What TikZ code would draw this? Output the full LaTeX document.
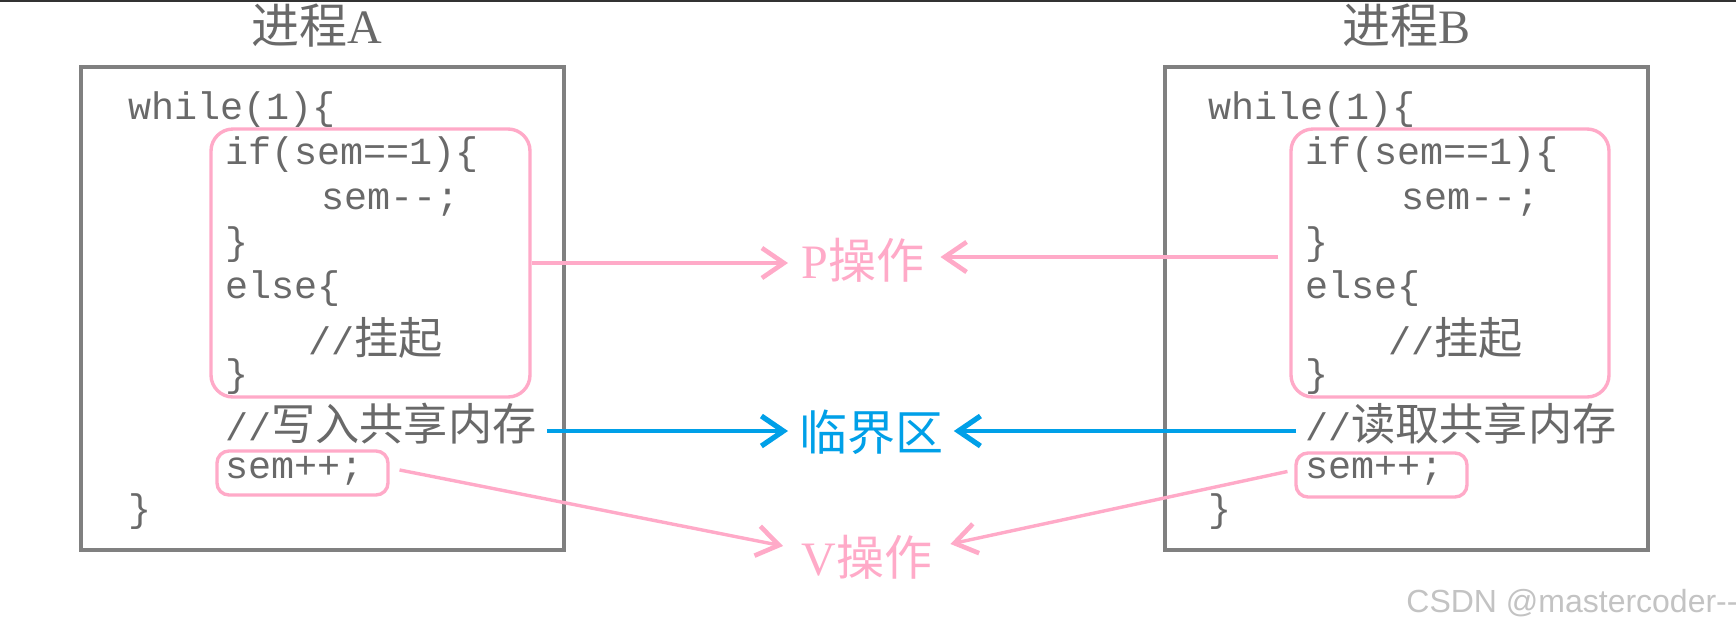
\documentclass[tikz,border=0pt]{standalone}
\usepackage{fontspec}
\usetikzlibrary{arrows.meta,fit}
\setmainfont{Liberation Serif}
\newfontfamily\codefont{Liberation Mono}
\newfontfamily\cjk[Scale=1.15]{Noto Sans CJK SC}
\newfontfamily\cjkt{Noto Sans CJK SC}
\newfontfamily\wmfont{Liberation Sans}
\definecolor{codegray}{RGB}{105,105,105}
\definecolor{boxgray}{RGB}{128,128,128}
\definecolor{pinkc}{RGB}{255,170,200}
\definecolor{bluec}{RGB}{0,160,232}
\definecolor{wmgray}{RGB}{195,195,195}
\newcommand{\mm}{\mbox{-}}
\tikzset{
  code/.style={anchor=base west, inner sep=0pt, text=codegray, font=\codefont\fontsize{19.2}{21}\selectfont},
  graybox/.style={draw=boxgray, line width=2pt},
  pinkbox/.style={draw=pinkc, line width=1.7pt, rounded corners=11pt, inner sep=0pt},
  pinksmall/.style={draw=pinkc, line width=1.7pt, rounded corners=6pt, inner sep=0pt},
  titlet/.style={inner sep=0pt, text=codegray, font=\fontsize{24}{26}\selectfont},
  optext/.style={inner sep=0pt, font=\fontsize{24}{26}\selectfont},
  parrow/.style={draw=pinkc, line width=1.7pt, -{Straight Barb[length=11pt,width=15pt,line width=2.3pt]}},
  barrow/.style={draw=bluec, line width=2.1pt, -{Straight Barb[length=11pt,width=15pt,line width=2.6pt]}}
}
\begin{document}
\begin{tikzpicture}[x=0.5pt,y=-0.5pt]
\useasboundingbox (0,0) rectangle (1736,628);
\fill[white] (0,0) rectangle (1736,628);
\draw[draw={rgb,255:red,50;green,50;blue,50}, line width=1pt] (0,1) -- (1736,1);

% titles
\node[titlet, anchor=base] (tA) at (317,43) {{\cjkt 进程}A};
\node[titlet, anchor=base] (tB) at (1406,43) {{\cjkt 进程}B};

% process boxes
\node[graybox, fit={(81,67) (564,550)}, inner sep=0pt] (boxA) {};
\node[graybox, fit={(1165,67) (1648,550)}, inner sep=0pt] (boxB) {};

% code A
\node[code] (a1) at (128,119) {while(1)\{};
\node[code] (a2) at (225,164) {if(sem==1)\{};
\node[code] (a3) at (321,209) {sem\mm\mm;};
\node[code] (a4) at (225,254) {\}};
\node[code] (a5) at (225,298) {else\{};
\node[code] (a6) at (308,354) {//{\cjk 挂起}};
\node[code] (a7) at (225,386) {\}};
\node[code] (a8) at (225,440) {//{\cjk 写入共享内存}};
\node[code] (a9) at (225,478) {sem++;};
\node[code] (a10) at (128,521) {\}};

% code B
\node[code] (b1) at (1208,119) {while(1)\{};
\node[code] (b2) at (1305,164) {if(sem==1)\{};
\node[code] (b3) at (1401,209) {sem\mm\mm;};
\node[code] (b4) at (1305,254) {\}};
\node[code] (b5) at (1305,298) {else\{};
\node[code] (b6) at (1388,354) {//{\cjk 挂起}};
\node[code] (b7) at (1305,386) {\}};
\node[code] (b8) at (1305,440) {//{\cjk 读取共享内存}};
\node[code] (b9) at (1305,478) {sem++;};
\node[code] (b10) at (1208,521) {\}};

% pink outlines
\node[pinkbox, fit={(211,129) (530,397)}] (pA) {};
\node[pinkbox, fit={(1291,129) (1609,397)}] (pB) {};
\node[pinksmall, fit={(217,451) (388,495)}] (sA) {};
\node[pinksmall, fit={(1296,453) (1467,497)}] (sB) {};

% operation labels
\node[optext, text=pinkc, anchor=west] (P) at (801,260) {P{\cjkt 操作}};
\node[optext, text=bluec, anchor=west] (C) at (799,432) {{\cjkt 临界区}};
\node[optext, text=pinkc, anchor=west] (V) at (801,557) {V{\cjkt 操作}};

% connectors
\draw[parrow, shorten >=6.5pt] (pA.east) -- (pA.east -| P.west);
\draw[parrow, shorten <=5.5pt, shorten >=8pt] ([yshift=3pt]pB.west) -- ([yshift=3pt]pB.west -| P.east);
\draw[barrow, shorten <=5pt, shorten >=5.5pt] ([yshift=4.5pt]a8.base east) -- ([yshift=4.5pt]a8.base east -| C.west);
\draw[barrow, shorten <=4.5pt, shorten >=5pt] ([yshift=4.5pt]b8.base west) -- ([yshift=4.5pt]b8.base west -| C.east);
\draw[parrow, shorten <=5pt] ([yshift=2.5pt]sA.east) -- ([shift={(-9pt,5.5pt)}]V.west);
\draw[parrow, shorten <=3.5pt] ([yshift=2.5pt]sB.west) -- ([shift={(9pt,6.5pt)}]V.east);

% watermark
\node[anchor=base west, inner sep=0pt, text=wmgray, font=\wmfont\fontsize{16}{18}\selectfont] (wm) at (1406,612) {CSDN @mastercoder\mm\mm};
\end{tikzpicture}
\end{document}
